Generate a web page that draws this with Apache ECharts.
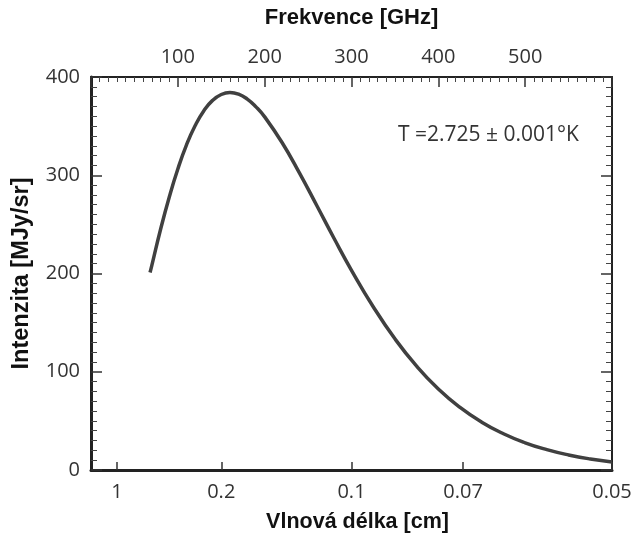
<!DOCTYPE html>
<html>
<head>
<meta charset="utf-8">
<script src="https://cdn.jsdelivr.net/npm/echarts@6/dist/echarts.min.js"></script>
<style>
  html, body { margin: 0; padding: 0; background: #fff; }
  #chart { width: 631px; height: 537px; }
</style>
</head>
<body>
<div id="chart"></div>
<script>
// frequency [GHz] and intensity [MJy/sr]
const freqGHz = [68, 70, 80, 90, 100, 110, 120, 130, 140, 150, 160, 170, 180, 190, 200,
  220, 240, 260, 280, 300, 325, 350, 375, 400, 425, 450, 475, 500, 525, 550, 575, 600];
const intensity = [201, 208, 244.5, 277.4, 306.4, 330.9, 350.6, 365.7, 376.2, 382.2, 384.2, 382.5, 377.5, 369.6, 359.4,
  333.3, 302.4, 269.2, 235.6, 203.3, 166.2, 133.5, 105.7, 82.5, 63.7, 48.7, 36.9, 27.7, 20.7, 15.3, 11.2, 8.2];

// bottom axis: wavelength labels [cm], placed at c / lambda
const wavelengthCm = [1, 0.2, 0.1, 0.07, 0.05];
const wavelengthLabels = ['1', '0.2', '0.1', '0.07', '0.05'];
const wavePos = wavelengthCm.map(l => 30 / l);

const topTickLabels = [100, 200, 300, 400, 500];
const yTicks = [0, 100, 200, 300, 400];

const chart = echarts.init(document.getElementById('chart'));

const labelFont = {
  color: '#333',
  fontSize: 20,
  fontFamily: 'Open Sans'
};
const nameFont = {
  color: '#111',
  fontSize: 22,
  fontWeight: 'bold',
  fontFamily: 'Liberation Sans'
};

const option = {
  animation: false,
  backgroundColor: '#fff',
  grid: { left: 91, right: 19, top: 77, bottom: 67, outerBoundsMode: 'none', containLabel: false },
  xAxis: [
    {
      type: 'value',
      position: 'bottom',
      min: 0,
      max: 600,
      name: 'Vlnová délka [cm]',
      nameLocation: 'middle',
      nameGap: 41,
      nameMoveOverlap: false,
      nameTextStyle: Object.assign({}, nameFont, { fontSize: 21.5, padding: [0, 0, 0, 12] }),
      axisLine: { show: true, onZero: false, lineStyle: { color: '#222', width: 3 } },
      axisTick: {
        inside: true, length: 8,
        customValues: wavePos,
        lineStyle: { color: '#333', width: 1.5 }
      },
      axisLabel: Object.assign({
        margin: 12,
        customValues: wavePos,
        formatter: function (v) {
          const i = wavePos.findIndex(p => Math.abs(p - v) < 0.01);
          return i >= 0 ? wavelengthLabels[i] : '';
        }
      }, labelFont),
      splitLine: { show: false }
    },
    {
      type: 'value',
      position: 'top',
      min: 0,
      max: 600,
      interval: 100,
      name: 'Frekvence [GHz]',
      nameLocation: 'middle',
      nameGap: 48,
      nameMoveOverlap: false,
      nameTextStyle: nameFont,
      axisLine: { show: true, onZero: false, lineStyle: { color: '#222', width: 2 } },
      axisTick: { inside: true, length: 10, lineStyle: { color: '#333', width: 1.5 } },
      minorTick: { show: true, splitNumber: 10, length: 5, lineStyle: { color: '#444', width: 1 } },
      axisLabel: Object.assign({
        margin: 10,
        formatter: function (v) {
          return topTickLabels.indexOf(v) >= 0 ? String(v) : '';
        }
      }, labelFont),
      splitLine: { show: false }
    }
  ],
  yAxis: [
    {
      type: 'value',
      position: 'left',
      min: 0,
      max: 400,
      interval: 100,
      name: 'Intenzita [MJy/sr]',
      nameLocation: 'middle',
      nameGap: 57,
      nameMoveOverlap: false,
      nameTextStyle: Object.assign({}, nameFont, { fontSize: 23.5 }),
      axisLine: { show: true, onZero: false, lineStyle: { color: '#222', width: 3 } },
      axisTick: { inside: true, length: 11, lineStyle: { color: '#333', width: 1.5 } },
      minorTick: { show: true, splitNumber: 10, length: 6, lineStyle: { color: '#444', width: 1 } },
      axisLabel: Object.assign({
        margin: 11,
        formatter: function (v) {
          return yTicks.indexOf(v) >= 0 ? String(v) : '';
        }
      }, labelFont),
      splitLine: { show: false }
    },
    {
      type: 'value',
      position: 'right',
      min: 0,
      max: 400,
      interval: 100,
      axisLine: { show: true, onZero: false, lineStyle: { color: '#222', width: 2 } },
      axisTick: { inside: true, length: 11, lineStyle: { color: '#333', width: 1.5 } },
      minorTick: { show: true, splitNumber: 10, length: 6, lineStyle: { color: '#444', width: 1 } },
      axisLabel: { show: false },
      splitLine: { show: false }
    }
  ],
  graphic: [
    {
      type: 'text',
      left: 398,
      top: 125,
      style: {
        text: 'T =2.725 ± 0.001°K',
        fill: '#333',
        fontSize: 21,
        fontFamily: 'Open Sans'
      }
    }
  ],
  series: [
    {
      type: 'line',
      xAxisIndex: 0,
      yAxisIndex: 0,
      data: freqGHz.map((f, i) => [f, intensity[i]]),
      smooth: true,
      showSymbol: false,
      symbol: 'none',
      lineStyle: { color: '#404040', width: 3.5 }
    }
  ]
};

chart.setOption(option);
</script>
</body>
</html>
